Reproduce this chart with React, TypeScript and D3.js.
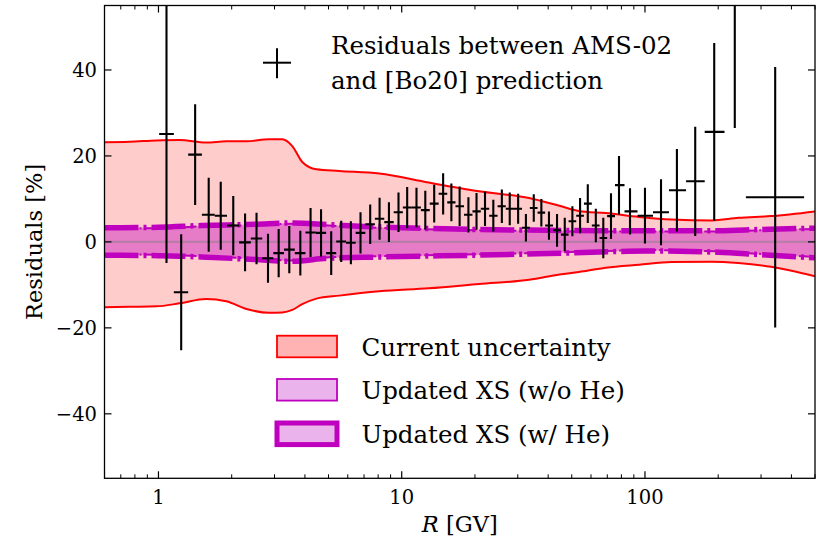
import React from "react";
import * as d3 from "d3";

const W = 816;
const H = 545;
const PL = 104.5, PR = 815, PT = 5.5, PB = 478.3;

// AMS-02 residual data points
const rigidity = [1.079, 1.24, 1.415, 1.609, 1.803, 2.03, 2.27, 2.53, 2.82, 3.12, 3.45, 3.83, 4.22, 4.66, 5.13, 5.64, 6.18, 6.77, 7.42, 8.11, 8.86, 9.7, 10.53, 11.5, 12.5, 13.6, 14.8, 16.0, 17.3, 18.8, 20.3, 22.0, 23.8, 25.8, 27.8, 30.1, 32.4, 34.9, 37.5, 40.3, 43.5, 46.8, 50.3, 54.1, 58.2, 62.8, 67.4, 72.5, 78.2, 86.8, 100, 116.4, 135.3, 160.9, 192.6, 234, 343];
const residual = [25.1, -11.7, 20.3, 6.3, 6.1, 3.8, -0.1, 0.8, -3.8, -2.6, -1.8, -2.6, 2.2, 2.1, -2.6, 0.1, -0.2, 2.1, 4.1, 5.4, 4.6, 6.9, 8.0, 8.0, 7.4, 8.9, 11.2, 9.2, 8.3, 6.3, 7.1, 7.7, 6.1, 8.3, 7.7, 7.7, 3.3, 7.9, 6.8, 3.8, 2.7, 1.7, 4.8, 6.1, 8.9, 3.8, 0.9, 6.0, 13.2, 7.1, 6.1, 6.9, 12.0, 14.1, 25.6, 60, 10.4];
const residualErr = [30, 13.5, 11.7, 8.6, 7.9, 6.9, 6.7, 6.0, 5.7, 5.6, 5.5, 5.2, 5.7, 5.5, 5.1, 4.8, 5.0, 4.8, 4.6, 4.9, 4.6, 4.6, 4.8, 4.6, 4.5, 4.4, 4.8, 4.4, 4.6, 4.1, 4.3, 4.0, 3.7, 3.9, 3.8, 3.5, 3.2, 3.2, 3.2, 3.3, 3.8, 3.9, 3.5, 4.1, 4.5, 3.9, 4.7, 5.3, 6.8, 5.4, 6.5, 7.7, 9.6, 12.7, 20.7, 33.5, 30.3];
const lastBinEdges = [260, 451];

// Current uncertainty band
const currentR = [0.6, 0.76, 0.98, 1.22, 1.57, 1.9, 2.3, 2.85, 3.23, 3.55, 3.9, 4.46, 5.54, 8.09, 12.9, 20.8, 33.4, 44.5, 53.5, 69, 94.6, 128.7, 188, 242, 330, 500];
const currentUpper = [23.2, 23.3, 23.6, 23.7, 23.1, 23.4, 23.4, 23.9, 23.9, 22.3, 18.6, 16.9, 16.5, 15.9, 13.8, 11.8, 10.2, 8.4, 7.2, 6.7, 5.8, 5.2, 5.0, 5.6, 6.0, 7.1];
const currentLower = [-15.2, -15.1, -15.0, -14.3, -13.3, -13.8, -15.6, -16.5, -16.4, -15.8, -14.5, -13.2, -12.5, -11.5, -10.8, -9.8, -8.8, -7.6, -7.0, -6.0, -5.3, -4.7, -4.6, -4.9, -5.8, -8.0];

// Updated XS bands
const xsR = [0.6, 1.0, 1.5, 2.5, 3.5, 5, 7, 10, 20, 40, 70, 100, 200, 300, 500];
const withHeUpper = [3.3, 3.4, 3.8, 4.1, 4.4, 4.0, 3.6, 3.3, 2.9, 2.7, 2.6, 2.6, 2.6, 2.9, 3.2];
const withHeLower = [-3.1, -3.2, -3.5, -4.1, -4.5, -3.8, -3.6, -3.4, -3.1, -2.7, -2.3, -2.1, -2.4, -3.0, -3.7];
const woHeUpper = [3.1, 3.2, 3.6, 3.9, 4.2, 3.8, 3.4, 3.1, 2.7, 2.5, 2.4, 2.4, 2.4, 2.7, 3.0];
const woHeLower = [-2.9, -3.0, -3.3, -3.9, -4.3, -3.6, -3.4, -3.2, -2.9, -2.5, -2.1, -1.9, -2.2, -2.8, -3.5];

const xTickValues = [1, 10, 100];
const xTickLabels = ["1", "10", "100"];
const yTickValues = [-40, -20, 0, 20, 40];
const yTickLabels = ["\u221240", "\u221220", "0", "20", "40"];

const legendLabels = ["Current uncertainty", "Updated XS (w/o He)", "Updated XS (w/ He)"];
const titleLines = ["Residuals between AMS-02", "and [Bo20] prediction"];

const FONT = "DejaVu Serif";
const RED = "#ff0000";
const MAG = "#bf00bf";

export default function App() {
  const x = d3.scaleLog().domain([0.6, 500]).range([PL, PR]);
  const y = d3.scaleLinear().domain([-55, 55]).range([PB, PT]);

  const bandArea = (rs: number[], up: number[], lo: number[]) =>
    d3
      .area<number>()
      .x((_, i) => x(rs[i]))
      .y0((_, i) => y(lo[i]))
      .y1((_, i) => y(up[i]))
      .curve(d3.curveMonotoneX)(rs) || "";
  const bandLine = (rs: number[], vals: number[]) =>
    d3
      .line<number>()
      .x((_, i) => x(rs[i]))
      .y((_, i) => y(vals[i]))
      .curve(d3.curveMonotoneX)(rs) || "";

  // bin edges from geometric midpoints
  const n = rigidity.length;
  const edges: number[] = [];
  for (let i = 0; i <= n; i++) {
    if (i === 0) edges.push((rigidity[0] * rigidity[0]) / Math.sqrt(rigidity[0] * rigidity[1]));
    else if (i === n) edges.push(lastBinEdges[1]);
    else if (i === n - 1) edges.push(lastBinEdges[0]);
    else edges.push(Math.sqrt(rigidity[i - 1] * rigidity[i]));
  }

  const minorX: number[] = [];
  for (const dec of [0.1, 1, 10, 100]) {
    for (let k = 2; k <= 9; k++) {
      const v = k * dec;
      if (v >= 0.6 && v <= 500) minorX.push(v);
    }
  }

  const legendRowY = [346.5, 389.8, 433.8];

  return (
    <svg
      width={W}
      height={H}
      style={{ position: "absolute", left: 0, top: 0, background: "#fff" }}
      fontFamily={FONT}
    >
      <defs>
        <clipPath id="plotClip">
          <rect x={PL} y={PT} width={PR - PL} height={PB - PT} />
        </clipPath>
      </defs>
      <rect x={0} y={0} width={W} height={H} fill="#fff" />
      <g clipPath="url(#plotClip)">
        {/* current uncertainty */}
        <path d={bandArea(currentR, currentUpper, currentLower)} fill="#ffcccc" />
        <path d={bandLine(currentR, currentUpper)} fill="none" stroke={RED} strokeWidth={2} />
        <path d={bandLine(currentR, currentLower)} fill="none" stroke={RED} strokeWidth={2} />
        {/* XS bands */}
        <path d={bandArea(xsR, woHeUpper, woHeLower)} fill={MAG} fillOpacity={0.22} />
        <path d={bandArea(xsR, withHeUpper, withHeLower)} fill={MAG} fillOpacity={0.22} />
        <line x1={PL} x2={PR} y1={y(0)} y2={y(0)} stroke="#808080" strokeOpacity={0.45} strokeWidth={2.2} />
        <path d={bandLine(xsR, woHeUpper)} fill="none" stroke={MAG} strokeWidth={2} strokeDasharray="12 3 2 3" />
        <path d={bandLine(xsR, woHeLower)} fill="none" stroke={MAG} strokeWidth={2} strokeDasharray="12 3 2 3" />
        <path d={bandLine(xsR, withHeUpper)} fill="none" stroke={MAG} strokeWidth={5.5} strokeDasharray="34 5 3 5" />
        <path d={bandLine(xsR, withHeLower)} fill="none" stroke={MAG} strokeWidth={5.5} strokeDasharray="34 5 3 5" />
        {/* data */}
        {rigidity.map((r, i) => (
          <g key={i} stroke="#000" strokeWidth={2.1}>
            <line x1={x(r)} x2={x(r)} y1={y(residual[i] - residualErr[i])} y2={y(residual[i] + residualErr[i])} />
            <line x1={x(edges[i])} x2={x(edges[i + 1])} y1={y(residual[i])} y2={y(residual[i])} />
          </g>
        ))}
      </g>

      {/* axes frame */}
      <rect x={PL} y={PT} width={PR - PL} height={PB - PT} fill="none" stroke="#000" strokeWidth={1.3} />
      {xTickValues.map((v) => (
        <g key={"xt" + v} stroke="#000" strokeWidth={1.2}>
          <line x1={x(v)} x2={x(v)} y1={PB} y2={PB - 7} />
          <line x1={x(v)} x2={x(v)} y1={PT} y2={PT + 7} />
        </g>
      ))}
      {minorX.map((v) => (
        <g key={"xm" + v} stroke="#000" strokeWidth={1}>
          <line x1={x(v)} x2={x(v)} y1={PB} y2={PB - 4} />
          <line x1={x(v)} x2={x(v)} y1={PT} y2={PT + 4} />
        </g>
      ))}
      {yTickValues.map((v) => (
        <g key={"yt" + v} stroke="#000" strokeWidth={1.2}>
          <line x1={PL} x2={PL + 7} y1={y(v)} y2={y(v)} />
          <line x1={PR} x2={PR - 7} y1={y(v)} y2={y(v)} />
        </g>
      ))}
      {xTickValues.map((v, i) => (
        <text key={"xl" + v} x={x(v)} y={504} textAnchor="middle" fontSize={19.5} fill="#000">
          {xTickLabels[i]}
        </text>
      ))}
      {yTickValues.map((v, i) => (
        <text key={"yl" + v} x={97} y={y(v) + 7} textAnchor="end" fontSize={19.5} fill="#000">
          {yTickLabels[i]}
        </text>
      ))}
      <text x={(PL + PR) / 2} y={532} textAnchor="middle" fontSize={22.5} fill="#000">
        <tspan fontStyle="italic">R</tspan> [GV]
      </text>
      <text
        transform={`translate(42,${(PT + PB) / 2}) rotate(-90)`}
        textAnchor="middle"
        fontSize={22.5}
        fill="#000"
      >
        Residuals [%]
      </text>

      {/* title with errorbar marker */}
      <g stroke="#000" strokeWidth={2}>
        <line x1={263} x2={291} y1={62.7} y2={62.7} />
        <line x1={277} x2={277} y1={48.3} y2={78.3} />
      </g>
      {titleLines.map((t, i) => (
        <text key={t} x={331} y={54 + i * 35} fontSize={24.5} fill="#000">
          {t}
        </text>
      ))}

      {/* legend */}
      {legendLabels.map((lab, i) => {
        const cy = legendRowY[i];
        const isRed = i === 0;
        return (
          <g key={lab}>
            <rect
              x={277}
              y={cy - 10.8}
              width={60}
              height={21.6}
              fill={isRed ? "#ffb3b3" : "#ebb3eb"}
              stroke={isRed ? RED : MAG}
              strokeWidth={i === 2 ? 5 : 1.8}
            />
            <text x={361.5} y={cy + 9} fontSize={24.5} fill="#000">
              {lab}
            </text>
          </g>
        );
      })}
    </svg>
  );
}
